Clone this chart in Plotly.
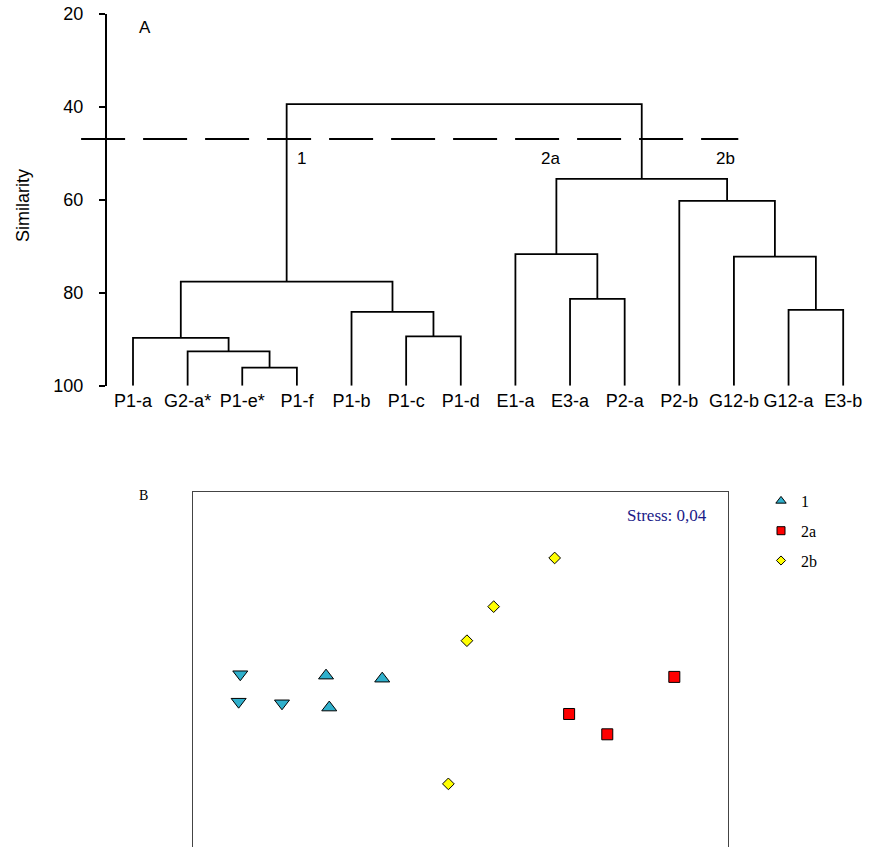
import plotly.graph_objects as go

# ---------------- Panel A: dendrogram data ----------------
leaf_labels = ["P1-a", "G2-a*", "P1-e*", "P1-f", "P1-b", "P1-c", "P1-d",
               "E1-a", "E3-a", "P2-a", "P2-b", "G12-b", "G12-a", "E3-b"]
# merges: (left node, right node, similarity); new nodes numbered from 14
merge_left = [2, 1, 0, 5, 4, 16, 8, 7, 12, 11, 10, 21, 19]
merge_right = [3, 14, 15, 6, 17, 18, 9, 20, 13, 22, 23, 24, 25]
merge_sim = [96.1, 92.6, 89.7, 89.4, 84.1, 77.6, 81.3, 71.7, 83.7, 72.2, 60.2, 55.5, 39.4]
cutoff_sim = 46.9
cutoff_x = [-0.95, 11.08]
cluster_labels = ["1", "2a", "2b"]
cluster_label_x = [3.08, 7.65, 10.84]
cluster_label_sim = [51.0, 51.0, 51.0]
sim_ticks = [20, 40, 60, 80, 100]

# ---------------- Panel B: MDS data ----------------
g1_down_x = [-1.235, -1.244, -1.001]
g1_down_y = [-0.024, -0.178, -0.187]
g1_up_x = [-0.754, -0.439, -0.736]
g1_up_y = [-0.032, -0.049, -0.211]
g2a_x = [1.199, 0.609, 0.823]
g2a_y = [-0.039, -0.247, -0.361]
g2b_x = [0.528, 0.186, 0.036, -0.068]
g2b_y = [0.628, 0.355, 0.164, -0.639]
legend_names = ["1", "2a", "2b"]
stress_text = "Stress: 0,04"

W, H = 873, 847


def px_x(p):
    return p / W


def px_y(p):
    return 1 - p / H


# build dendrogram path
n = len(leaf_labels)
node_x = {i: float(i) for i in range(n)}
node_h = {i: 100.0 for i in range(n)}
dx, dy = [], []
for k, (a, b, s) in enumerate(zip(merge_left, merge_right, merge_sim)):
    nid = n + k
    dx += [node_x[a], node_x[a], node_x[b], node_x[b], None]
    dy += [node_h[a], s, s, node_h[b], None]
    node_x[nid] = (node_x[a] + node_x[b]) / 2
    node_h[nid] = s

fig = go.Figure()
fig.add_trace(go.Scatter(x=dx, y=dy, mode="lines",
                         line=dict(color="black", width=1.8),
                         showlegend=False, hoverinfo="skip",
                         xaxis="x", yaxis="y"))

teal = "#2fb0cc"
red = "#ff0000"
yellow = "#ffff00"
outline = dict(color="black", width=1)
fig.add_trace(go.Scatter(x=g1_down_x, y=g1_down_y, mode="markers",
                         marker=dict(symbol="triangle-down", size=13, color=teal, line=outline),
                         showlegend=False, xaxis="x2", yaxis="y2"))
fig.add_trace(go.Scatter(x=g1_up_x, y=g1_up_y, mode="markers",
                         marker=dict(symbol="triangle-up", size=13, color=teal, line=outline),
                         showlegend=False, xaxis="x2", yaxis="y2"))
fig.add_trace(go.Scatter(x=g2a_x, y=g2a_y, mode="markers",
                         marker=dict(symbol="square", size=11, color=red, line=outline),
                         showlegend=False, xaxis="x2", yaxis="y2"))
fig.add_trace(go.Scatter(x=g2b_x, y=g2b_y, mode="markers",
                         marker=dict(symbol="diamond", size=9, color=yellow, line=outline),
                         showlegend=False, xaxis="x2", yaxis="y2"))
# legend entries (smaller symbols, as in the original key)
for nm, sym, sz, col in zip(legend_names, ["triangle-up", "square", "diamond"],
                            [9, 8, 7], [teal, red, yellow]):
    fig.add_trace(go.Scatter(x=[None], y=[None], mode="markers", name=nm,
                             marker=dict(symbol=sym, size=sz, color=col, line=outline),
                             legendgroup=nm, xaxis="x2", yaxis="y2"))

sans = "Liberation Sans, Arial"
serif = "Liberation Serif, Times New Roman"
annotations = []
for t, xv, sv in zip(cluster_labels, cluster_label_x, cluster_label_sim):
    annotations.append(dict(x=xv, y=sv, xref="x", yref="y", text=t, showarrow=False,
                            xanchor="center", yanchor="middle",
                            font=dict(family=sans, size=17, color="black")))
annotations.append(dict(x=0.22, y=22.8, xref="x", yref="y", text="A", showarrow=False,
                        xanchor="center", yanchor="middle",
                        font=dict(family=sans, size=17, color="black")))
annotations.append(dict(x=px_x(23), y=px_y(206), xref="paper", yref="paper", text="Similarity",
                        textangle=-90, showarrow=False, xanchor="center", yanchor="middle",
                        font=dict(family=sans, size=18, color="black")))
annotations.append(dict(x=px_x(143), y=px_y(496), xref="paper", yref="paper", text="B",
                        showarrow=False, xanchor="center", yanchor="middle",
                        font=dict(family=serif, size=14, color="black")))
annotations.append(dict(x=px_x(667), y=px_y(515), xref="paper", yref="paper", text=stress_text,
                        showarrow=False, xanchor="center", yanchor="middle",
                        font=dict(family=serif, size=17, color="#1a1a88")))

noauto = dict(automargin=False)
fig.update_layout(
    width=W, height=H,
    margin=dict(l=0, r=0, t=0, b=0, pad=0, autoexpand=False),
    paper_bgcolor="white", plot_bgcolor="white",
    showlegend=True,
    legend=dict(x=px_x(761), y=px_y(484), xanchor="left", yanchor="top",
                font=dict(family=serif, size=16, color="black"),
                tracegroupgap=6, bgcolor="rgba(0,0,0,0)"),
    xaxis=dict(domain=[px_x(133 - 54.63), px_x(843.2 + 27.3)], range=[-1.0, 13.5],
               anchor="y", tickmode="array", tickvals=list(range(n)), ticktext=leaf_labels,
               showline=False, ticks="", showgrid=False, zeroline=False,
               ticklabelstandoff=2,
               tickfont=dict(family=sans, size=18, color="black"), **noauto),
    yaxis=dict(domain=[px_y(385.7), px_y(14)], range=[100, 20],
               anchor="free", position=px_x(106),
               tickmode="array", tickvals=sim_ticks,
               showline=True, linecolor="black", linewidth=2,
               ticks="outside", ticklen=6, tickwidth=2, tickcolor="black",
               ticklabelstandoff=12, ticklabeloverflow="allow",
               showgrid=False, zeroline=False,
               tickfont=dict(family=sans, size=18, color="black"), **noauto),
    xaxis2=dict(domain=[px_x(193), px_x(728)], range=[-1.5, 1.5], anchor="y2", side="top",
                showline=True, linecolor="#444444", linewidth=1, mirror=False,
                showticklabels=False, ticks="", showgrid=False, zeroline=False, **noauto),
    yaxis2=dict(domain=[0, px_y(492)], range=[-0.993, 0.998], anchor="x2",
                showline=True, linecolor="#444444", linewidth=1, mirror=True,
                showticklabels=False, ticks="", showgrid=False, zeroline=False, **noauto),
    shapes=[dict(type="line", xref="x", yref="y", x0=cutoff_x[0], x1=cutoff_x[1],
                 y0=cutoff_sim, y1=cutoff_sim,
                 line=dict(color="black", width=1.8, dash="44px,18px"))],
    annotations=annotations,
)

# remove the browser's default 8px page margin so the figure sits at the window corner
fig.write_html("out.html", config={"displayModeBar": False},
               post_script="document.body.style.margin='0px';")
